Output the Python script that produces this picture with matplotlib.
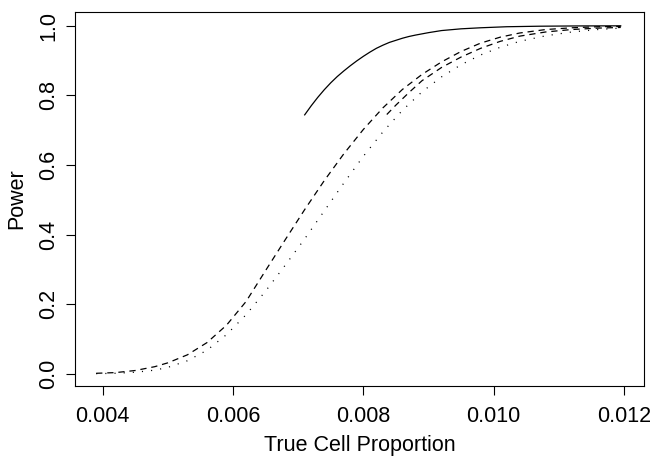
import matplotlib
matplotlib.use("Agg")
import matplotlib.pyplot as plt

plt.rcParams['font.family'] = ['Liberation Sans', 'DejaVu Sans']
plt.rcParams['lines.scale_dashes'] = False

# ---- data ----
x_full = [0.0039, 0.0042, 0.0045, 0.0048, 0.0050, 0.0053, 0.0056, 0.0059, 0.0062,
          0.0065, 0.0068, 0.0071, 0.0074, 0.0077, 0.0080, 0.0083, 0.0086, 0.0089,
          0.0092, 0.0095, 0.0098, 0.0101, 0.0104, 0.0108, 0.0112, 0.0116, 0.01195]
dashed_a = [0.002, 0.004, 0.010, 0.021, 0.032, 0.055, 0.090, 0.140, 0.208,
            0.297, 0.385, 0.472, 0.555, 0.632, 0.702, 0.764, 0.817, 0.860,
            0.896, 0.926, 0.950, 0.967, 0.979, 0.989, 0.994, 0.997, 0.998]
dotted = [0.001, 0.002, 0.005, 0.011, 0.019, 0.038, 0.068, 0.113, 0.170,
          0.238, 0.312, 0.388, 0.468, 0.548, 0.625, 0.695, 0.757, 0.810,
          0.853, 0.888, 0.916, 0.938, 0.955, 0.971, 0.982, 0.989, 0.993]

x_b = [0.00836, 0.0085, 0.0087, 0.0089, 0.0092, 0.0095, 0.0098, 0.0101, 0.0104,
       0.0108, 0.0112, 0.0116, 0.01195]
dashed_b = [0.745, 0.772, 0.808, 0.842, 0.880, 0.910, 0.935, 0.955, 0.970,
            0.982, 0.989, 0.993, 0.995]

x_solid = [0.0071, 0.0072, 0.0073, 0.0074, 0.0075, 0.0076, 0.0077, 0.0078, 0.0079,
           0.0080, 0.0081, 0.0082, 0.0083, 0.0084, 0.0085, 0.0086, 0.0087, 0.0088,
           0.0090, 0.0092, 0.0095, 0.0098, 0.0102, 0.0107, 0.0113, 0.01195]
solid = [0.744, 0.770, 0.794, 0.816, 0.836, 0.854, 0.870, 0.885, 0.899,
         0.912, 0.924, 0.935, 0.944, 0.952, 0.958, 0.964, 0.969, 0.973,
         0.980, 0.986, 0.991, 0.994, 0.997, 0.9985, 0.9993, 0.9996]

xticks = [0.004, 0.006, 0.008, 0.010, 0.012]
xtick_labels = ["0.004", "0.006", "0.008", "0.010", "0.012"]
yticks = [0.0, 0.2, 0.4, 0.6, 0.8, 1.0]
ytick_labels = ["0.0", "0.2", "0.4", "0.6", "0.8", "1.0"]

W, H = 652, 458
fig = plt.figure(figsize=(W / 100, H / 100), dpi=100)
left, right, top, bottom = 75.3, 644, 12, 386
ax = fig.add_axes([left / W, 1 - bottom / H, (right - left) / W, (bottom - top) / H])

lw = 0.9
ax.plot(x_solid, solid, color='black', lw=lw, linestyle='-')
ax.plot(x_full, dashed_a, color='black', lw=lw, linestyle=(0, (4.5, 3.5)))
ax.plot(x_b, dashed_b, color='black', lw=lw, linestyle=(0, (4.5, 3.5)))
ax.plot(x_full, dotted, color='black', lw=lw, linestyle=(0, (0.8, 5.8)))

ax.set_xlim(0.003580, 0.012307)
ax.set_ylim(-0.0345, 1.0393)

ax.set_xticks(xticks)
ax.set_xticklabels(xtick_labels)
ax.set_yticks(yticks)
ax.set_yticklabels(ytick_labels, rotation=90, va='center')

ax.tick_params(axis='both', direction='out', length=6.5, width=0.8,
               labelsize=15.5, colors='black')
ax.tick_params(axis='x', pad=8)
ax.tick_params(axis='y', pad=5)

for s in ax.spines.values():
    s.set_linewidth(0.8)
    s.set_color('black')

ax.set_xlabel("True Cell Proportion", fontsize=15.5, labelpad=6)
ax.set_ylabel("Power", fontsize=15.5, labelpad=8)

fig.savefig("out.png", dpi=100)
